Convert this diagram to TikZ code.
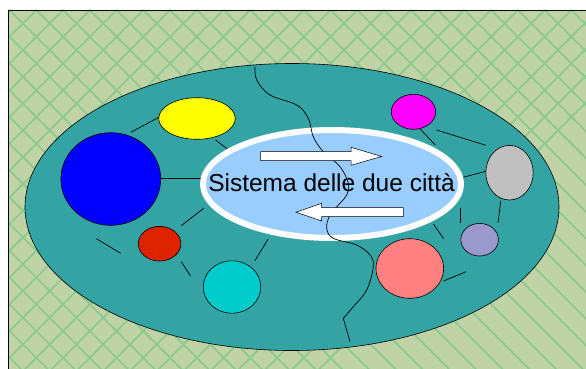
\documentclass[tikz,border=0pt]{standalone}
\usepackage{fontspec}
\setmainfont{Liberation Sans}
\usetikzlibrary{shapes.geometric}
\definecolor{bggreen}{HTML}{BFD3A6}
\definecolor{hatchgreen}{HTML}{8DC98E}
\definecolor{bigteal}{HTML}{33A3A3}
\definecolor{innerblue}{HTML}{99CCFF}
\definecolor{cyellow}{HTML}{FFFF00}
\definecolor{cblue}{HTML}{0000FF}
\definecolor{cred}{HTML}{DD2200}
\definecolor{ccyan}{HTML}{00CCCC}
\definecolor{cmagenta}{HTML}{FF00FF}
\definecolor{cgray}{HTML}{C0C0C0}
\definecolor{clav}{HTML}{9999CC}
\definecolor{csalmon}{HTML}{FF8080}
\begin{document}
\begin{tikzpicture}[x=1pt,y=-1pt,
  blob/.style={ellipse, draw=black, line width=0.6pt, inner sep=0pt},
  link/.style={draw=black, line width=0.7pt},
  hatchline/.style={draw=hatchgreen, line width=1.7pt},
  blockarrow/.style={draw=black, line width=0.5pt, fill=white}]
\useasboundingbox (0,0) rectangle (586,369);
\fill[white] (0,0) rectangle (586,369);
% patterned background
\begin{scope}
  \clip (8,10) rectangle (592,374);
  \fill[bggreen] (8,10) rectangle (592,374);
  \foreach \i in {-15,...,25} {
    \draw[hatchline] ({9.55+\i*26.75},10) -- ++(370,370);
    \draw[hatchline] ({9.55+\i*26.75},10) -- ++(-370,370);
  }
\end{scope}
\draw[black, line width=0.8pt] (8,374) -- (8,10) -- (592,10);
% big city ellipse
\node[blob, fill=bigteal, minimum width=534pt, minimum height=287pt] (city) at (292,207) {};
% connectors
\draw[link] (130.8,132.3) -- (158.8,117.3);
\draw[link] (215.6,140) -- (235.4,155);
\draw[link] (160.7,178.3) -- (203.7,178.3);
\draw[link] (203.7,208.3) -- (181.2,225.7);
\draw[link] (96.4,238.7) -- (120.7,253.3);
\draw[link] (181.2,261.7) -- (190.6,276);
\draw[link] (268,239.3) -- (254.9,260.7);
\draw[link] (420.4,129.3) -- (435.3,145);
\draw[link] (436.5,130) -- (485.8,145.3);
\draw[link] (461.5,177.7) -- (485.8,171.3);
\draw[link] (500.7,200.7) -- (498.1,222.7);
\draw[link] (460.8,208.3) -- (460.8,222.7);
\draw[link] (433.5,224) -- (443.6,238.7);
\draw[link] (443.6,281) -- (466,271.7);
% inner system ellipse
\node[ellipse, draw=white, line width=6pt, fill=innerblue, minimum width=258pt, minimum height=108pt, inner sep=0pt] (sys) at (332,184) {};
% river
\draw[black, line width=0.7pt] plot[smooth, tension=0.6] coordinates {
  (255,66.7) (256.7,80) (270,95) (296.7,105) (308.3,118.3) (313.3,136.7)
  (323.3,151.7) (340,166.7) (348.3,183.3) (346.7,195) (340,203.3) (330,215)
  (326.7,228.3) (333.3,238.3) (356.7,245) (370,255) (373.3,266.7)
  (366.7,290) (353.3,306.7) (343.3,318.3)} -- (350,341.7);
% block arrows
\draw[blockarrow] (260.7,151.7) -- (351,151.7) -- (351,147.3) -- (381.7,156.5)
  -- (351,165.3) -- (351,160.7) -- (260.7,160.7) -- cycle;
\draw[blockarrow] (403.3,207.7) -- (321.7,207.7) -- (321.7,203.3) -- (296,212.2)
  -- (321.7,221) -- (321.7,216.7) -- (403.3,216.7) -- cycle;
% label
\node[anchor=base, inner sep=0pt, font=\fontsize{24.5}{29}\selectfont] (label) at (331.5,191.5) {Sistema delle due città};
% districts
\node[blob, fill=cyellow, minimum width=76.6pt, minimum height=41.6pt] (yellow) at (197,118.5) {};
\node[blob, fill=cblue, minimum width=99.8pt, minimum height=92.6pt] (blue) at (110.8,179) {};
\node[blob, fill=cred, minimum width=42.6pt, minimum height=34.6pt] (red) at (159.6,243.7) {};
\node[blob, fill=ccyan, minimum width=57.4pt, minimum height=52.4pt] (cyan) at (232,287) {};
\node[blob, fill=cmagenta, minimum width=44.4pt, minimum height=35pt] (magenta) at (413.5,111.8) {};
\node[blob, fill=cgray, minimum width=47.4pt, minimum height=54.6pt] (gray) at (509.5,172.7) {};
\node[blob, fill=clav, minimum width=37.6pt, minimum height=32.6pt] (lav) at (479.6,239.7) {};
\node[blob, fill=csalmon, minimum width=67.6pt, minimum height=59.6pt] (salmon) at (409.8,268.5) {};
\end{tikzpicture}
\end{document}
